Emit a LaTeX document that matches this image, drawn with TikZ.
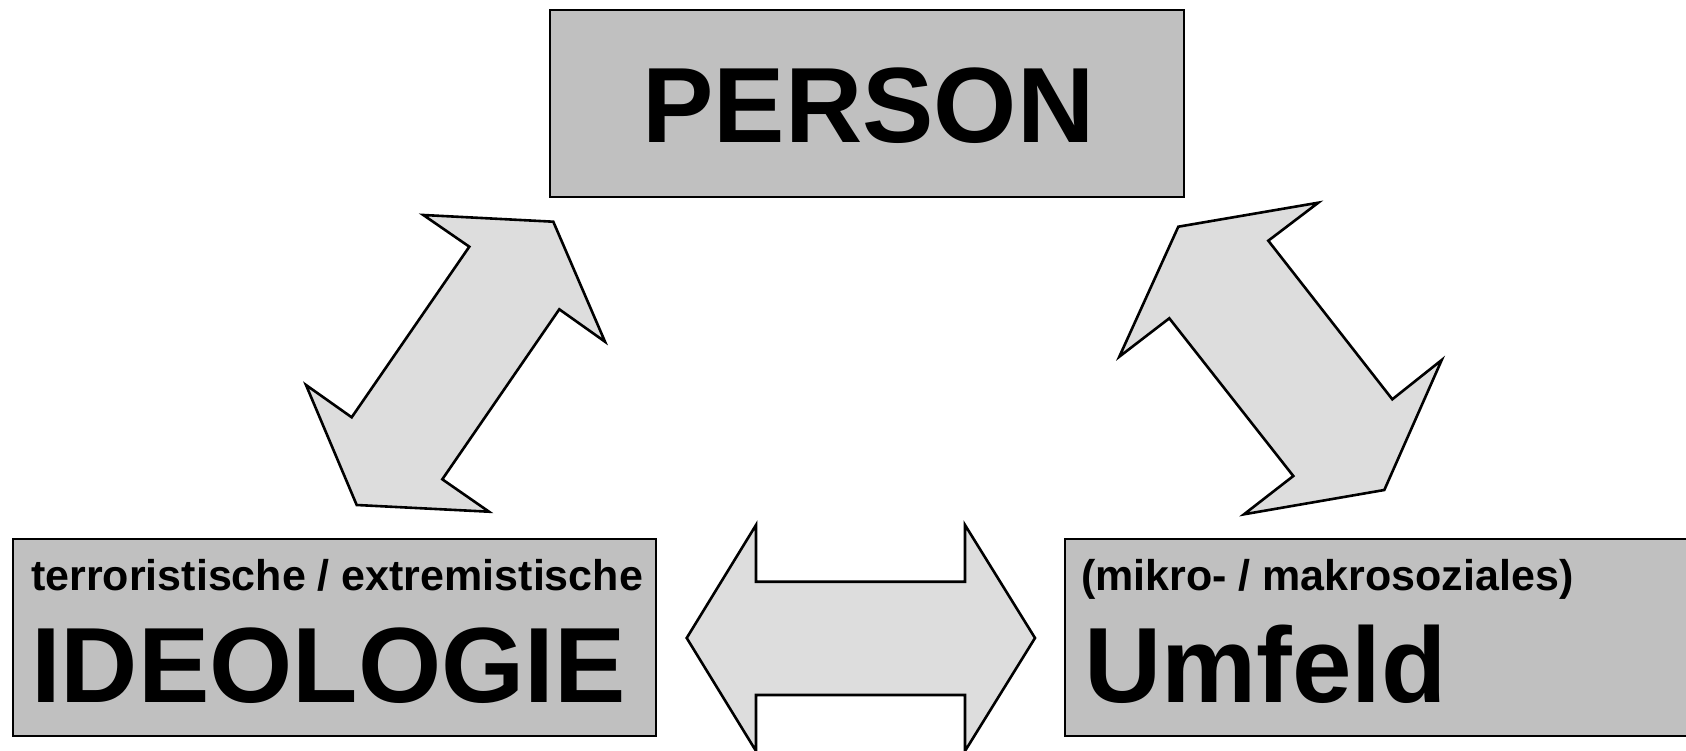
\documentclass[tikz,border=0pt]{standalone}
\usepackage{fontspec}
\setmainfont{Liberation Sans}
\begin{document}
\begin{tikzpicture}[x=1pt,y=-1pt,
  boxstyle/.style={draw=black,line width=2pt,fill=boxgray,inner sep=0pt},
  blockarrow/.style={draw=black,line width=2.6pt,fill=arrowgray,line join=miter},
  bigtext/.style={inner sep=0pt,anchor=base west,font=\bfseries\fontsize{107}{112}\selectfont},
  smalltext/.style={inner sep=0pt,anchor=base west,font=\bfseries\fontsize{43}{46}\selectfont}]
\definecolor{boxgray}{RGB}{192,192,192}
\definecolor{arrowgray}{RGB}{221,221,221}
\clip (0,0) rectangle (1686,751);
\fill[white] (0,0) rectangle (1686,751);
% boxes
\draw[boxstyle] (549.5,9.7) rectangle (1184,196.8);
\node[inner sep=0pt] (person) at (866.8,103) {};
\draw[boxstyle] (13,539) rectangle (656,735.5);
\node[inner sep=0pt] (ideo) at (334.5,637) {};
\draw[boxstyle] (1065,539) rectangle (1700,735.5);
\node[inner sep=0pt] (umfeld) at (1380,637) {};
% texts
\node[inner sep=0pt,anchor=base,font=\bfseries\fontsize{107}{112}\selectfont] (tperson) at (868.5,142.7) {PERSON};
\node[smalltext] (tideosmall) at (31,590) {terroristische / extremistische};
\node[bigtext] (tideo) at (31,702.7) {IDEOLOGIE};
\node[smalltext] (tumsmall) at (1081,590) {(mikro- / makrosoziales)};
\node[bigtext] (tum) at (1084,702.7) {Umfeld};
% left diagonal arrow
\draw[blockarrow] (423.3,215) -- (553.3,221.7) -- (605,341.7) -- (559.3,309.3)
  -- (442.3,479.3) -- (489,511.7) -- (356.7,505) -- (306,385) -- (351.7,417.3)
  -- (469.3,246.7) -- cycle;
% right diagonal arrow
\draw[blockarrow] (1178.3,226.7) -- (1318.3,202.7) -- (1268.3,240.7) -- (1392.3,399.3)
  -- (1441.7,360) -- (1384.3,490) -- (1244,514.3) -- (1293.3,476) -- (1169.3,318.3)
  -- (1119.3,356.7) -- cycle;
% horizontal arrow
\draw[blockarrow] (686.7,638) -- (756,525) -- (756,581.7) -- (965,581.7) -- (965,525)
  -- (1035,638) -- (965,751) -- (965,695) -- (756,695) -- (756,751) -- cycle;
\end{tikzpicture}
\end{document}
